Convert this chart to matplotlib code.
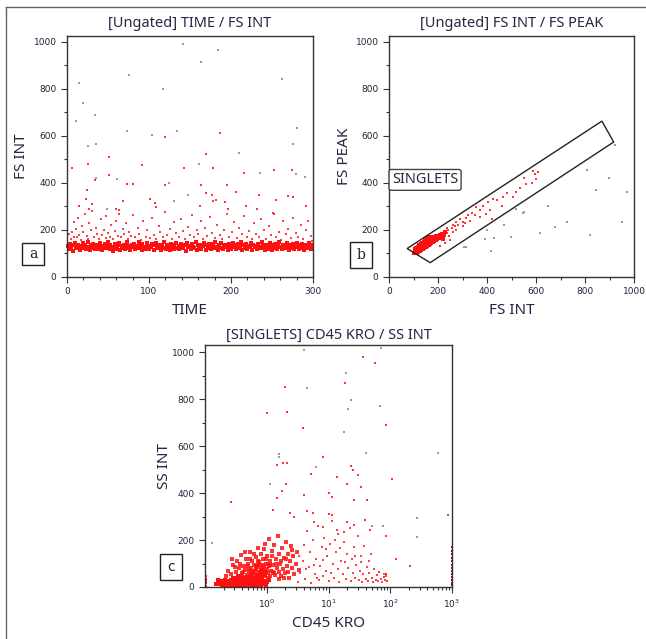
import numpy as np
import matplotlib.pyplot as plt
from matplotlib.patches import Polygon, Rectangle
from matplotlib.lines import Line2D
from matplotlib.ticker import MultipleLocator, LogLocator, NullFormatter

# ---- panel a: TIME / FS INT ----
a_band = [
    (1,131),(2,118),(4,140),(5,126),(7,112),(8,135),(10,146),(11,122),(13,129),(14,138),
    (16,115),(17,132),(19,143),(20,124),(22,136),(23,119),(25,128),(26,150),(28,113),(29,134),
    (31,125),(32,141),(34,117),(35,130),(37,137),(38,121),(40,145),(41,127),(43,114),(44,133),
    (46,139),(47,123),(49,131),(50,148),(52,118),(53,136),(55,126),(56,112),(58,142),(59,129),
    (61,120),(62,135),(64,144),(65,116),(67,130),(68,125),(70,138),(71,119),(73,147),(74,132),
    (76,122),(77,114),(79,137),(80,128),(82,141),(83,117),(85,133),(86,124),(88,149),(89,130),
    (91,115),(92,139),(94,127),(95,121),(97,135),(98,143),(100,118),(101,131),(103,126),(104,140),
    (106,113),(107,134),(109,145),(110,123),(112,129),(113,137),(115,116),(116,132),(118,148),(119,125),
    (121,120),(122,138),(124,130),(125,114),(127,142),(128,127),(130,135),(131,119),(133,146),(134,124),
    (136,131),(137,117),(139,139),(140,128),(142,122),(143,136),(145,112),(146,144),(148,126),(149,133),
    (151,118),(152,140),(154,129),(155,123),(157,147),(158,115),(160,134),(161,127),(163,138),(164,120),
    (166,131),(167,145),(169,113),(170,136),(172,125),(173,142),(175,118),(176,130),(178,139),(179,122),
    (181,148),(182,128),(184,116),(185,135),(187,124),(188,143),(190,119),(191,132),(193,137),(194,126),
    (196,114),(197,141),(199,130),(200,121),(202,146),(203,127),(205,134),(206,117),(208,139),(209,124),
    (211,131),(212,149),(214,115),(215,136),(217,125),(218,140),(220,120),(221,133),(223,128),(224,144),
    (226,113),(227,137),(229,126),(230,131),(232,118),(233,142),(235,129),(236,123),(238,147),(239,135),
    (241,116),(242,130),(244,138),(245,121),(247,127),(248,145),(250,114),(251,134),(253,124),(254,139),
    (256,119),(257,132),(259,148),(260,126),(262,117),(263,137),(265,129),(266,122),(268,143),(269,131),
    (271,115),(272,136),(274,125),(275,140),(277,120),(278,133),(280,146),(281,127),(283,118),(284,135),
    (286,124),(287,141),(289,113),(290,130),(292,138),(293,122),(295,144),(296,128),(298,117),(299,134),
]
a_mid = [
    (3,185),(5,160),(6,190),(8,172),(9,235),(11,205),(12,168),(14,250),(15,180),(17,158),
    (18,215),(20,192),(22,270),(24,175),(26,162),(27,228),(29,198),(31,280),(33,170),(35,210),
    (37,185),(39,160),(41,245),(43,178),(45,200),(47,165),(48,258),(50,188),(52,172),(54,222),
    (56,160),(58,195),(60,240),(62,175),(64,285),(66,168),(68,205),(70,182),(72,230),(74,160),
    (76,192),(78,175),(80,262),(83,168),(86,210),(88,185),(90,158),(93,238),(96,172),(98,200),
    (101,165),(104,252),(106,180),(109,160),(112,218),(114,190),(117,168),(120,275),(122,178),(125,205),
    (128,162),(131,232),(133,188),(136,170),(139,248),(141,195),(144,160),(147,212),(150,178),(152,265),
    (155,168),(158,198),(160,182),(163,240),(166,160),(168,208),(171,175),(174,255),(177,188),(180,165),
    (183,222),(186,178),(189,160),(192,200),(195,270),(198,172),(201,190),(204,236),(207,165),(210,210),
    (213,182),(216,258),(219,168),(222,195),(225,160),(228,228),(231,185),(234,172),(237,246),(240,200),
    (243,162),(246,215),(249,180),(252,268),(255,170),(258,192),(261,158),(264,238),(267,182),(270,205),
    (273,165),(276,250),(279,188),(282,172),(285,222),(288,160),(291,198),(294,240),(297,175),(299,155),
]
a_sparse_red = [
    (119,594),(186,614),(51,435),(6,465),(51,510),(25,480),(91,475),(170,525),(143,462),(178,464),
    (274,457),(252,457),(216,442),(34,411),(24,372),(73,396),(80,396),(119,390),(163,390),(195,390),
    (169,359),(177,347),(101,332),(182,329),(206,362),(234,350),(270,345),(276,340),(255,329),(68,325),
    (23,330),(31,309),(27,291),(60,291),(63,270),(107,315),(108,296),(162,301),(178,322),(193,319),
    (196,291),(218,301),(232,291),(251,272),(291,301),(15,302),
]
a_sparse_gray = [
    (141,990),(184,967),(163,913),(76,858),(15,827),(117,799),(262,840),(19,740),(11,665),(34,690),
    (281,634),(73,621),(104,605),(134,621),(276,567),(26,559),(35,567),(210,528),(161,481),(235,442),
    (279,438),(35,421),(290,425),(61,418),(124,400),(148,347),(131,323),(49,291),
]

# ---- panel b: FS INT / FS PEAK ----
b_core = [
    (100,100),(103,104),(106,102),(108,108),(110,105),(112,111),(114,107),(116,114),(118,110),(120,117),
    (105,110),(109,113),(113,118),(117,121),(121,112),(124,120),(126,115),(128,124),(130,118),(132,127),
    (122,126),(127,130),(131,122),(134,131),(136,124),(138,134),(140,127),(142,137),(144,130),(146,140),
    (135,138),(139,142),(143,133),(147,145),(149,136),(151,148),(153,139),(155,150),(157,142),(159,152),
    (150,154),(154,157),(158,146),(161,155),(163,148),(165,158),(167,150),(169,161),(171,153),(173,163),
    (162,164),(166,167),(170,168),(175,156),(177,166),(180,170),(182,160),(185,172),(188,163),(190,175),
    (110,100),(115,103),(119,106),(123,109),(127,111),(131,114),(135,117),(139,120),(143,123),(147,126),
    (151,129),(155,132),(159,135),(163,138),(167,141),(171,144),(175,147),(180,150),(185,153),(190,157),
    (195,160),(198,168),(202,175),(206,165),(210,180),(214,170),(218,185),(222,160),(226,178),(230,192),
    (107,118),(112,124),(118,128),(124,135),(130,141),(136,146),(142,150),(148,158),(154,163),(160,170),
]
b_band = [
    (589,452),(596,438),(551,423),(582,401),(535,377),(480,356),(465,342),(441,328),(426,332),(404,321),
    (385,302),(412,285),(371,285),(357,299),(337,271),(324,264),(314,250),(290,246),(302,232),(283,222),
    (269,215),(256,208),(242,201),(235,187),(222,180),(208,166),(249,159),(229,145),(208,131),(371,256),
    (419,245),(260,190),(275,200),(245,175),(300,215),(330,240),(350,262),(395,270),(460,300),(505,340),
    (520,360),(560,395),(610,445),(600,415),(275,233),(310,228),(262,222),(238,210),
]
b_gray = [
    (922,561),(810,457),(844,369),(897,419),(970,360),(949,233),(821,179),(725,236),(677,211),(618,189),
    (498,169),(649,303),(553,276),(468,221),(429,164),(392,163),(418,111),(402,200),(305,129),(316,126),
    (545,274),(520,290),
]
gate = [(74,121),(869,663),(917,574),(168,61)]

# ---- panel c: CD45 KRO / SS INT ----
c_base = [
    (0.17,12),(0.18,25),(0.19,8),(0.20,18),(0.21,30),(0.22,10),(0.23,22),(0.24,5),(0.25,15),(0.26,28),
    (0.27,11),(0.28,20),(0.29,33),(0.30,7),(0.31,17),(0.32,26),(0.33,12),(0.34,21),(0.35,4),(0.36,30),
    (0.37,14),(0.38,24),(0.40,9),(0.41,19),(0.42,32),(0.44,13),(0.45,23),(0.46,6),(0.48,16),(0.49,27),
    (0.50,11),(0.52,21),(0.54,35),(0.55,8),(0.57,18),(0.59,29),(0.60,13),(0.62,24),(0.64,5),(0.66,16),
    (0.68,31),(0.70,10),(0.72,22),(0.75,14),(0.78,27),(0.80,8),(0.83,19),(0.86,12),(0.90,25),(0.94,15),
    (0.19,20),(0.21,14),(0.23,27),(0.25,9),(0.27,24),(0.29,16),(0.31,6),(0.33,29),(0.35,18),(0.37,10),
    (0.39,26),(0.41,13),(0.43,20),(0.45,30),(0.47,9),(0.50,24),(0.53,15),(0.56,26),(0.58,10),(0.61,19),
    (0.65,28),(0.69,15),(0.73,7),(0.77,20),(0.82,30),(0.88,18),(0.97,8),(1.02,22),(0.15,14),(0.16,28),
    (0.28,40),(0.34,45),(0.40,38),(0.47,42),(0.55,48),(0.63,40),(0.72,45),(0.85,40),(0.95,50),(1.10,30),
]
c_mid = [
    (0.22,45),(0.24,70),(0.26,55),(0.28,95),(0.30,40),(0.32,62),(0.33,110),(0.35,48),(0.36,80),(0.38,135),
    (0.40,58),(0.42,90),(0.43,42),(0.45,72),(0.46,120),(0.48,52),(0.50,98),(0.51,65),(0.53,150),(0.55,45),
    (0.56,82),(0.58,112),(0.60,60),(0.61,38),(0.63,95),(0.65,70),(0.67,128),(0.69,50),(0.70,85),(0.72,165),
    (0.74,62),(0.76,105),(0.78,42),(0.80,78),(0.82,140),(0.84,55),(0.86,92),(0.88,118),(0.90,68),(0.92,185),
    (0.95,48),(0.97,100),(1.00,75),(1.02,132),(1.05,58),(1.08,88),(1.10,205),(1.12,45),(1.15,110),(1.18,70),
    (1.20,155),(1.24,62),(1.28,95),(1.32,178),(1.35,52),(1.40,120),(1.45,80),(1.50,215),(1.55,65),(1.60,140),
    (1.65,98),(1.70,48),(1.76,168),(1.82,75),(1.88,125),(1.95,58),(2.02,192),(2.10,88),(2.18,142),(2.25,62),
    (2.35,110),(2.45,175),(2.55,80),(2.65,130),(2.80,55),(2.95,98),(3.10,150),(3.30,72),(0.37,100),(0.41,65),
    (0.44,150),(0.47,88),(0.52,75),(0.57,58),(0.62,142),(0.66,88),(0.71,110),(0.75,35),(0.79,95),(0.85,72),
    (0.89,160),(0.93,60),(0.98,118),(1.06,40),(1.13,92),(1.22,130),(1.30,60),(1.42,100),(1.58,35),(1.72,110),
    (1.90,40),(2.05,120),(2.30,38),(2.60,158),(0.27,120),(0.31,85),(0.34,35),(0.39,45),(0.49,38),(0.54,120),
    (0.58,68),(0.64,52),(0.68,78),(0.73,92),(0.77,58),(0.81,66),(0.87,50),(0.91,84),(0.96,64),(1.03,96),
]
c_scatter = [
    (3.2,20),(3.5,60),(3.8,110),(4.0,180),(4.2,35),(4.5,240),(4.8,85),(5.0,150),(5.3,15),(5.6,200),
    (6.0,55),(6.3,120),(6.7,260),(7.0,30),(7.4,90),(7.8,170),(8.2,45),(8.6,210),(9.0,70),(9.5,130),
    (10,25),(10.5,185),(11,60),(11.5,280),(12,100),(12.5,40),(13,150),(14,75),(14.5,225),(15,20),
    (16,110),(17,55),(18,190),(19,35),(20,140),(21,80),(22,250),(23,25),(24,120),(25,60),
    (26,170),(27,40),(28,95),(30,215),(31,30),(32,70),(34,130),(35,20),(36,55),(38,175),
    (40,35),(42,85),(44,25),(46,60),(48,140),(50,40),(52,20),(55,75),(58,30),(60,50),
    (63,25),(66,65),(70,35),(74,20),(78,55),(82,30),(86,45),(90,25),(3.3,130),(4.4,75),
    (5.8,95),(6.5,40),(8.0,115),(9.2,160),(12.8,200),(15.5,165),(18.5,105),(26.5,130),(33,105),(45,110),
]
c_top_red = [
    (36,977),(56,952),(18.6,868),(1.96,853),(1.0,740),(2.16,744),(85,690),(3.9,677),(8,552),(1.45,518),
    (1.8,526),(2.1,526),(23,516),(25,498),(13.6,468),(30.6,476),(108,459),(19.8,438),(2.03,438),(33,427),
    (5.2,479),(1.77,410),(4.08,393),(10.3,398),(11.3,384),(25.5,370),(42,370),(1.45,377),(0.26,360),(1.25,327),
    (2.39,317),(4.45,324),(5.7,317),(10,310),(11.2,306),(850,306),(2.78,299),(19.8,277),(39,284),(26,263),
    (5.9,277),(8.1,256),(13.6,242),(17.5,232),(47,242),(86,216),(122,121),(205,90),(84,57),(80,43),
]
c_top_gray = [
    (4.0,1010),(71,1017),(19.3,912),(4.45,846),(23,797),(21,757),(69,771),(17.5,659),(1.57,565),(1.55,555),
    (41,569),(585,569),(6.2,512),(1.15,438),(270,292),(50,260),(75,260),(270,213),(0.128,188),
]
c_edge_right_y = [8, 18, 30, 42, 55, 68, 82, 95, 110, 125, 140, 155, 170]
c_edge_left_y = [6, 15, 24, 35, 48]

W, H = 646, 639
RED = '#ff1010'
GRAY = '#9a9a9a'
TXT = '#262645'

fig = plt.figure(figsize=(W / 100, H / 100), dpi=100)


def px_axes(l, t, r, b):
    return fig.add_axes([l / W, 1 - b / H, (r - l) / W, (b - t) / H])


def style(ax, title, xlabel, ylabel, ylx, xly, ty):
    for sp in ax.spines.values():
        sp.set_color('#333333')
        sp.set_linewidth(1.0)
    ax.tick_params(which='both', direction='out', colors='#333333',
                   labelcolor='#22223a', labelsize=6.5, top=False, right=False)
    ax.tick_params(which='major', length=4, width=0.8)
    ax.tick_params(which='minor', length=2.5, width=0.8)
    ax.text(0.5, ty, title, transform=ax.transAxes, ha='center', va='center',
            fontsize=10.5, color=TXT, family='Noto Sans')
    ax.set_xlabel(xlabel, fontsize=11, color=TXT, family='Noto Sans', va='center')
    ax.set_ylabel(ylabel, fontsize=11, color=TXT, family='Noto Sans', va='center')
    ax.xaxis.set_label_coords(0.5, xly)
    ax.yaxis.set_label_coords(ylx, 0.5)


def pts(ax, data, color, s, alpha=1.0):
    xs = [p[0] for p in data]
    ys = [p[1] for p in data]
    ax.scatter(xs, ys, s=s, c=color, marker='s', linewidths=0, alpha=alpha, clip_on=False)


def letter_box(l, t, r, b, ch, family):
    fig.patches.append(Rectangle((l / W, 1 - b / H), (r - l) / W, (b - t) / H,
                                 transform=fig.transFigure, facecolor='white',
                                 edgecolor='#222222', lw=1.0))
    fig.text((l + r) / 2 / W, 1 - (t + b) / 2 / H, ch, ha='center', va='center',
             fontsize=10, family=family, color='#222222')


# panel a
ax1 = px_axes(67, 36, 313, 277)
pts(ax1, a_band, RED, 7)
pts(ax1, a_mid, RED, 3, 0.8)
pts(ax1, a_sparse_red, RED, 3, 0.85)
pts(ax1, a_sparse_gray, GRAY, 1.5)
ax1.set_xlim(0, 300)
ax1.set_ylim(0, 1025)
ax1.xaxis.set_major_locator(MultipleLocator(100))
ax1.xaxis.set_minor_locator(MultipleLocator(20))
ax1.yaxis.set_major_locator(MultipleLocator(200))
ax1.yaxis.set_minor_locator(MultipleLocator(100))
style(ax1, '[Ungated] TIME / FS INT', 'TIME', 'FS INT', -0.183, -0.141, 1.05)

# panel b
ax2 = px_axes(389, 36, 634, 277)
pts(ax2, b_gray, GRAY, 1.5)
pts(ax2, b_band, RED, 3, 0.85)
pts(ax2, b_core, RED, 9)
ax2.add_patch(Polygon(gate, closed=True, fill=False, edgecolor='#222222', lw=1.0))
ax2.set_xlim(0, 1000)
ax2.set_ylim(0, 1025)
ax2.xaxis.set_major_locator(MultipleLocator(200))
ax2.xaxis.set_minor_locator(MultipleLocator(100))
ax2.yaxis.set_major_locator(MultipleLocator(200))
ax2.yaxis.set_minor_locator(MultipleLocator(100))
style(ax2, '[Ungated] FS INT / FS PEAK', 'FS INT', 'FS PEAK', -0.18, -0.141, 1.05)
ax2.text(12, 413, 'SINGLETS', ha='left', va='center', fontsize=10.5, color=TXT,
         family='Noto Sans', clip_on=False,
         bbox=dict(boxstyle='round,pad=0.2,rounding_size=0.15', fc='white', ec='#444444', lw=1.0))

# panel c
ax3 = px_axes(205, 345, 452, 587)
ax3.set_xscale('log')
pts(ax3, c_top_gray, GRAY, 1.5)
pts(ax3, c_scatter, RED, 3, 0.8)
pts(ax3, c_top_red, RED, 3, 0.85)
pts(ax3, c_mid, RED, 5, 0.85)
pts(ax3, c_base, RED, 10)
pts(ax3, [(1000, y) for y in c_edge_right_y], '#b00000', 3)
pts(ax3, [(0.105, y) for y in c_edge_left_y], RED, 4)
ax3.set_xlim(0.1, 1000)
ax3.set_ylim(0, 1030)
ax3.xaxis.set_major_locator(LogLocator(base=10, numticks=10))
ax3.xaxis.set_minor_locator(LogLocator(base=10, subs=np.arange(2, 10), numticks=10))
ax3.xaxis.set_minor_formatter(NullFormatter())
ax3.set_xticks([1, 10, 100, 1000])
ax3.set_xticklabels(['$10^0$', '$10^1$', '$10^2$', '$10^3$'])
ax3.yaxis.set_major_locator(MultipleLocator(200))
ax3.yaxis.set_minor_locator(MultipleLocator(100))
style(ax3, '[SINGLETS] CD45 KRO / SS INT', 'CD45 KRO', 'SS INT', -0.165, -0.149, 1.04)

letter_box(22, 243, 44, 265, 'a', 'DejaVu Serif')
letter_box(350, 242, 372, 268, 'b', 'DejaVu Serif')
letter_box(160, 554, 182, 580, 'c', 'DejaVu Sans')

# outer frame (top and left only, cropped figure)
fig.lines.append(Line2D([6 / W, 1], [1 - 7 / H, 1 - 7 / H], transform=fig.transFigure,
                        color='#666666', lw=1.0))
fig.lines.append(Line2D([6 / W, 6 / W], [0, 1 - 7 / H], transform=fig.transFigure,
                        color='#666666', lw=1.0))

fig.savefig('out.png', dpi=100)
